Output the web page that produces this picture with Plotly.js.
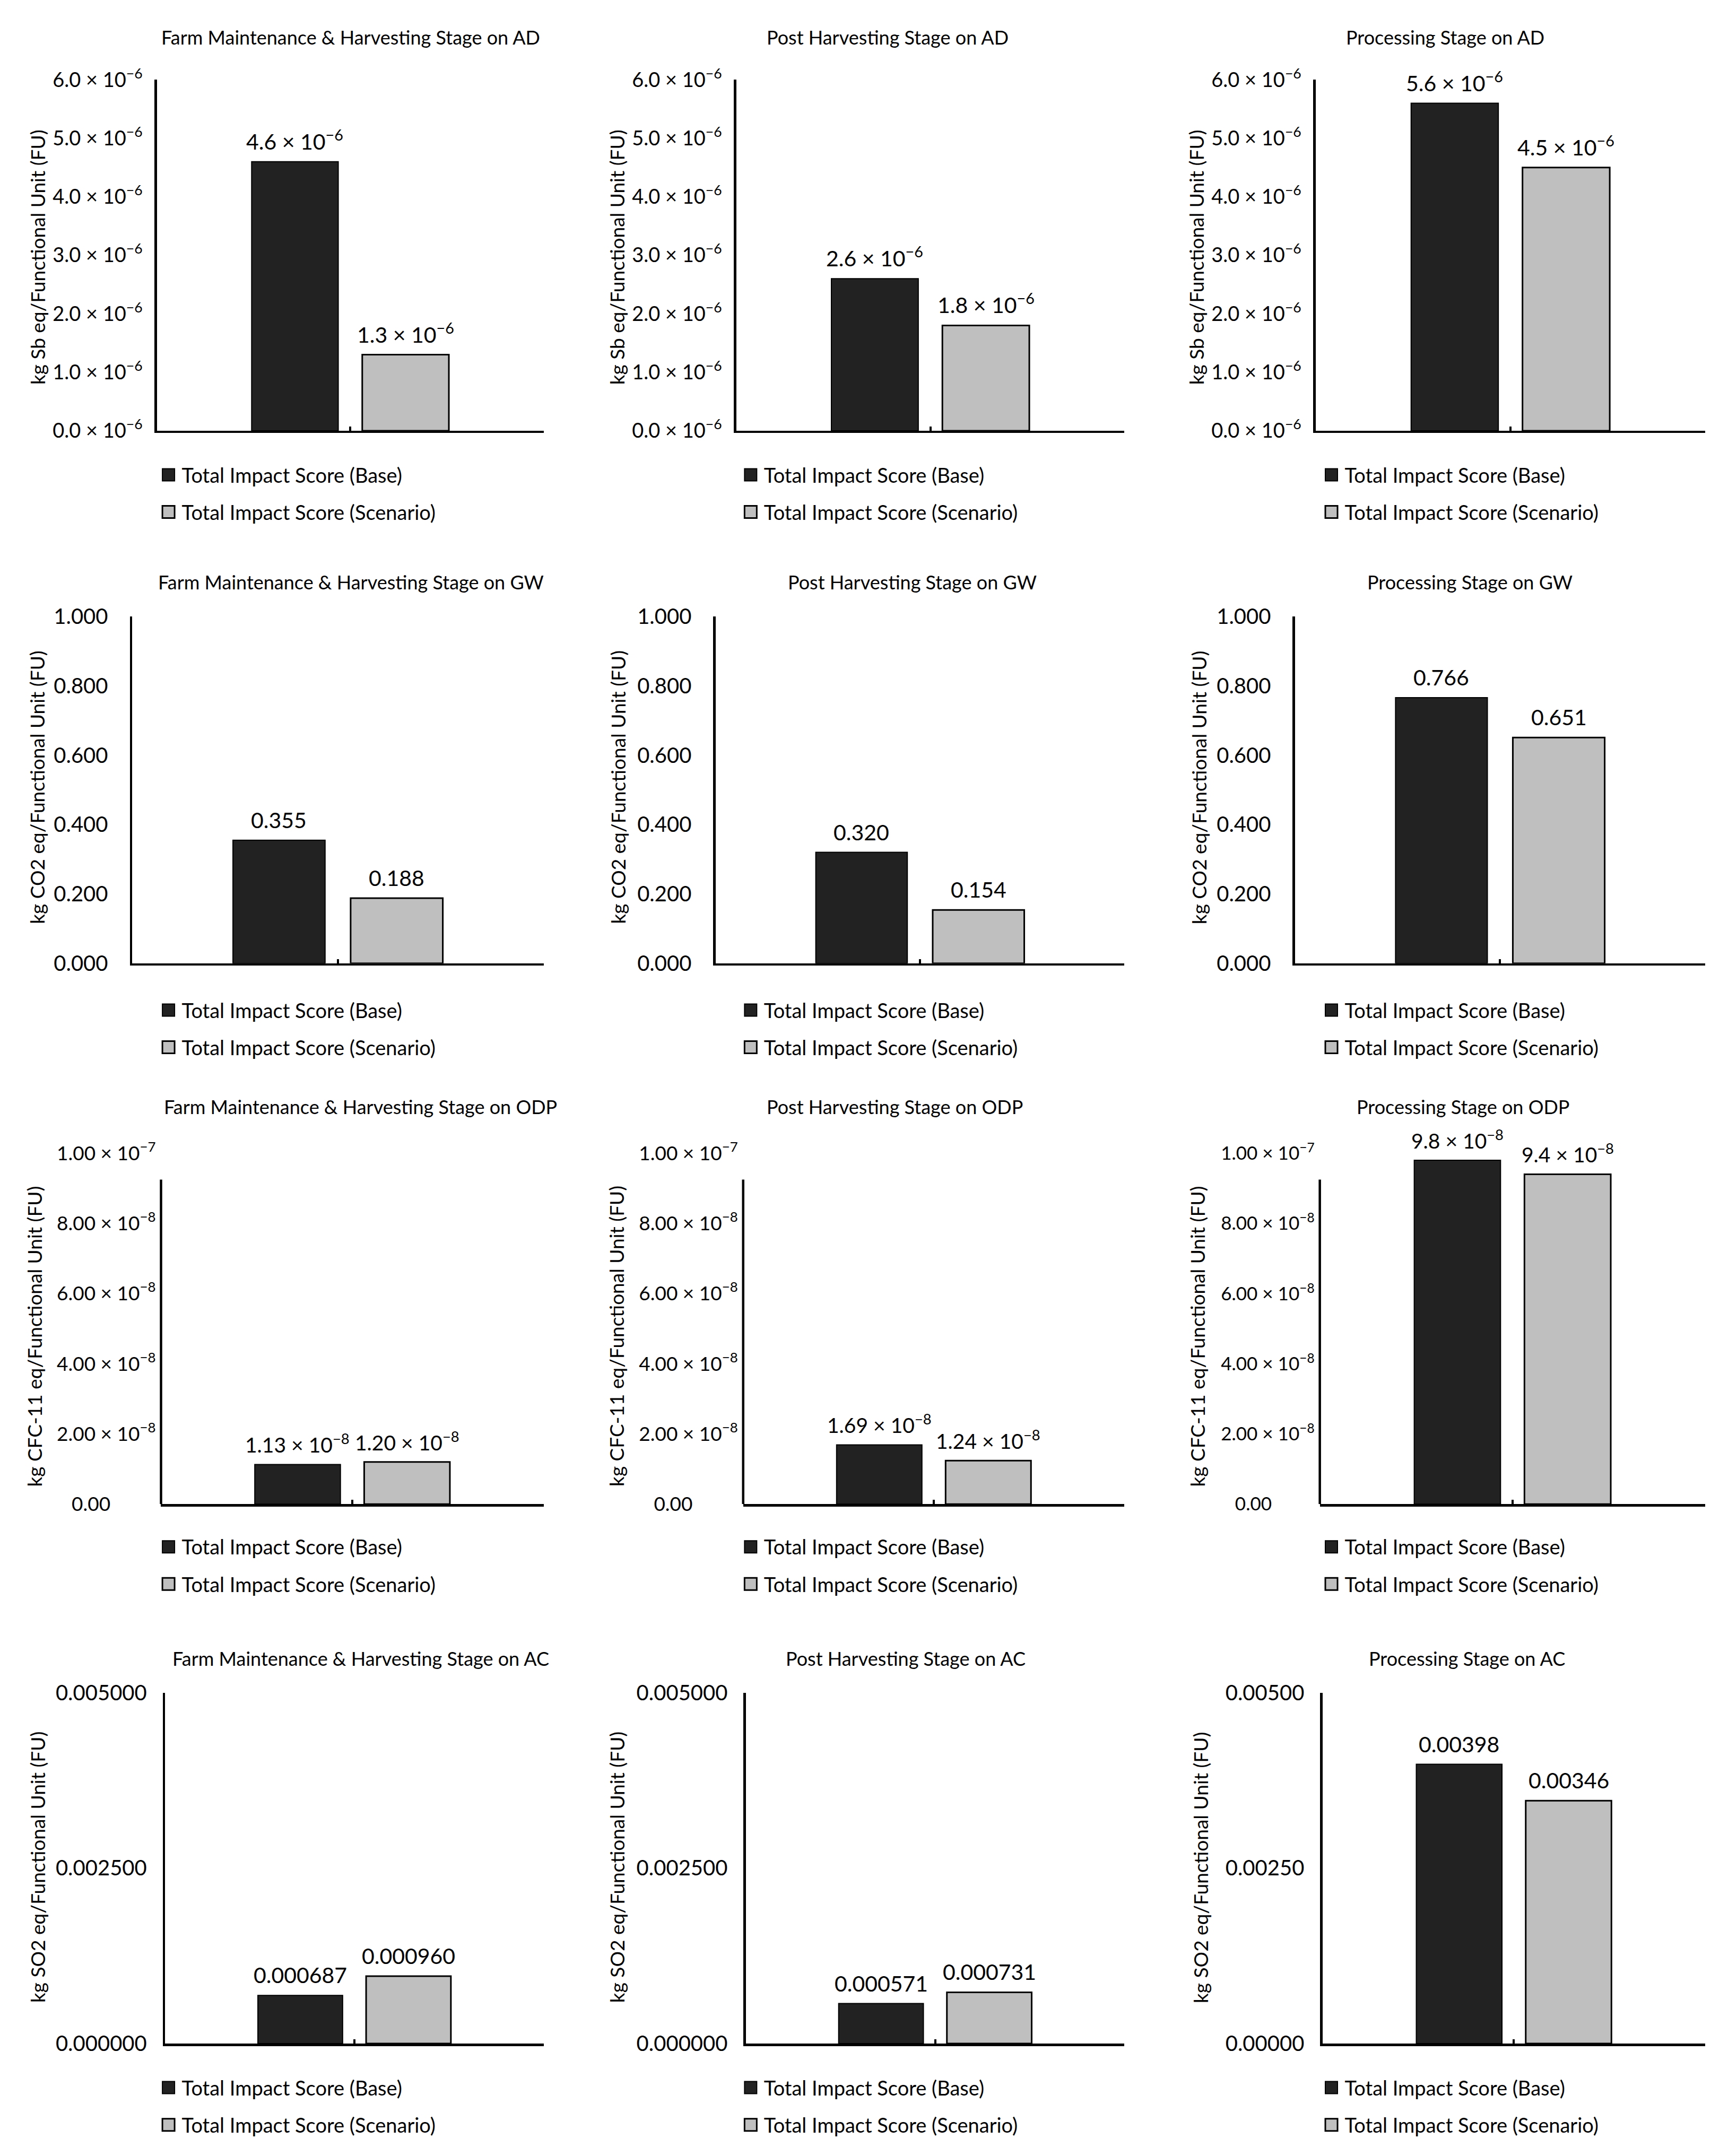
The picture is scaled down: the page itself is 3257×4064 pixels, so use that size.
<!DOCTYPE html>
<html><head><meta charset="utf-8">
<script src="https://cdn.plot.ly/plotly-3.0.1.min.js"></script>
<style>html,body{margin:0;padding:0;background:#fff}</style>
</head><body><div id="chart" style="width:3257px;height:4064px"></div>
<script>
// ---------- data ----------
const stages = ['Farm Maintenance & Harvesting Stage', 'Post Harvesting Stage', 'Processing Stage'];
const categories = ['AD', 'GW', 'ODP', 'AC'];
const seriesNames = ['Total Impact Score (Base)', 'Total Impact Score (Scenario)'];
const yTitles = ['kg Sb eq/Functional Unit (FU)', 'kg CO2 eq/Functional Unit (FU)',
                 'kg CFC-11 eq/Functional Unit (FU)', 'kg SO2 eq/Functional Unit (FU)'];

const adBase = [4.6e-6, 2.6e-6, 5.6e-6];
const adScenario = [1.3e-6, 1.8e-6, 4.5e-6];
const gwBase = [0.355, 0.320, 0.766];
const gwScenario = [0.188, 0.154, 0.651];
const odpBase = [1.13e-8, 1.69e-8, 9.8e-8];
const odpScenario = [1.20e-8, 1.24e-8, 9.4e-8];
const acBase = [0.000687, 0.000571, 0.00398];
const acScenario = [0.000960, 0.000731, 0.00346];

// labels as printed: [mantissa, exponent] for the scientific ones
const adBaseLabels = [['4.6', '−6'], ['2.6', '−6'], ['5.6', '−6']];
const adScenarioLabels = [['1.3', '−6'], ['1.8', '−6'], ['4.5', '−6']];
const gwBaseLabels = ['0.355', '0.320', '0.766'];
const gwScenarioLabels = ['0.188', '0.154', '0.651'];
const odpBaseLabels = [['1.13', '−8'], ['1.69', '−8'], ['9.8', '−8']];
const odpScenarioLabels = [['1.20', '−8'], ['1.24', '−8'], ['9.4', '−8']];
const acBaseLabels = ['0.000687', '0.000571', '0.00398'];
const acScenarioLabels = ['0.000960', '0.000731', '0.00346'];

const adTickVals = [0, 1e-6, 2e-6, 3e-6, 4e-6, 5e-6, 6e-6];
const adTickText = [['0.0', '−6'], ['1.0', '−6'], ['2.0', '−6'], ['3.0', '−6'], ['4.0', '−6'], ['5.0', '−6'], ['6.0', '−6']];
const gwTickVals = [0, 0.2, 0.4, 0.6, 0.8, 1.0];
const gwTickText = ['0.000', '0.200', '0.400', '0.600', '0.800', '1.000'];
const odpTickVals = [0, 2e-8, 4e-8, 6e-8, 8e-8, 1e-7];
const odpTickText = ['0.00', ['2.00', '−8'], ['4.00', '−8'], ['6.00', '−8'], ['8.00', '−8'], ['1.00', '−7']];
const acTickVals = [0, 0.0025, 0.005];
const acTickTextA = ['0.000000', '0.002500', '0.005000'];
const acTickTextB = ['0.00000', '0.00250', '0.00500'];

// ---------- assembly ----------
const sci = l => Array.isArray(l)
  ? l[0] + ' × 10<span style="font-size:70%;baseline-shift:super">' + l[1] + '</span>' : l;

const baseVals = [adBase, gwBase, odpBase, acBase];
const scenVals = [adScenario, gwScenario, odpScenario, acScenario];
const baseLbls = [adBaseLabels, gwBaseLabels, odpBaseLabels, acBaseLabels];
const scenLbls = [adScenarioLabels, gwScenarioLabels, odpScenarioLabels, acScenarioLabels];
const tickVals = [adTickVals, gwTickVals, odpTickVals, acTickVals];
const tickTexts = [[adTickText, adTickText, adTickText], [gwTickText, gwTickText, gwTickText],
                   [odpTickText, odpTickText, odpTickText], [acTickTextA, acTickTextA, acTickTextB]];
const yMax = [6e-6, 1.0, 1e-7, 0.005];

const W = 3257, H = 4064, K = 2.594;   // layout measured in reference-overview units
const FONT = 'Lato, "Open Sans", sans-serif';
const colRight = [395, 817, 1239];
const axisLeft = [[114, 535, 956], [96, 520, 941], [117, 540, 959], [120, 542, 961]];
const rowTB = [[58, 313], [448, 700], [838, 1093], [1230, 1485]];
const tickStandoff = [15, 33, 9, 22];
const tickFont = [[38, 38, 38], [40, 40, 40], [37, 37, 35], [40, 40, 40]];
const valueFont = [41, 41, 39, 41];
const legendSquareLeft = [118, 541, 963];
const legendItemCenter = [345, 734, 1124, 1517];
const yTitleX = [[27, 448, 869], [27, 449, 871], [25, 448, 870], [27, 448, 872]];
const yTitleY = [187, 572, 971, 1357];
const titleX = [[255, 645, 1050], [255, 663, 1068], [262, 650, 1063], [262, 658, 1066]];
const titleY = [27, 423, 804, 1205];

const barW = 0.448, baseOff = -0.51, scenOff = 0.062;
const LEG_FONT = 38, LEG_ITEMW = 40, SWATCH = 11.5;

const traces = [], annotations = [], shapes = [];
const layout = {
  width: W, height: H, margin: {l: 0, r: 0, t: 0, b: 0},
  paper_bgcolor: '#fff', plot_bgcolor: '#fff',
  barmode: 'overlay', showlegend: true,
  font: {family: FONT, color: '#000'},
};

for (let r = 0; r < 4; r++) {
  for (let c = 0; c < 3; c++) {
    const n = r * 3 + c + 1;
    const sfx = n === 1 ? '' : String(n);
    const xa = 'x' + sfx, ya = 'y' + sfx, lg = 'legend' + sfx;
    traces.push({
      type: 'bar', x: [0], y: [baseVals[r][c]], xaxis: xa, yaxis: ya,
      name: seriesNames[0], legend: lg, legendgroup: 'base' + n,
      width: barW, offset: baseOff,
      marker: {color: '#222222', line: {color: '#000', width: 2}}, hoverinfo: 'skip'
    });
    traces.push({
      type: 'bar', x: [0], y: [scenVals[r][c]], xaxis: xa, yaxis: ya,
      name: seriesNames[1], legend: lg, legendgroup: 'scen' + n,
      width: barW, offset: scenOff,
      marker: {color: '#bfbfbf', line: {color: '#000', width: 3}}, hoverinfo: 'skip'
    });
    const x0 = axisLeft[r][c] * K / W, x1 = colRight[c] * K / W;
    const yTop = 1 - rowTB[r][0] * K / H, yBot = 1 - rowTB[r][1] * K / H;
    layout['xaxis' + sfx] = {
      domain: [x0, x1], anchor: ya, range: [-1, 1], type: 'linear',
      tickvals: [0, 1], ticks: 'inside', ticklen: 8, tickwidth: 4, tickcolor: '#000',
      showticklabels: false, showline: true, linecolor: '#000', linewidth: 4.5,
      showgrid: false, zeroline: false, fixedrange: true
    };
    const tt = tickTexts[r][c].map(t => (r === 2 && t === '0.00') ? t + '\u00a0'.repeat(9) : sci(t));
    layout['yaxis' + sfx] = {
      domain: [yBot, yTop], anchor: xa, range: [0, yMax[r]],
      tickmode: 'array', tickvals: tickVals[r], ticktext: tt,
      ticks: '', ticklabelstandoff: tickStandoff[r],
      tickfont: {family: FONT, size: tickFont[r][c], color: '#000'},
      showline: r !== 2, linecolor: '#000', linewidth: 4.5,
      showgrid: false, zeroline: false, fixedrange: true
    };
    if (r === 2) {
      shapes.push({type: 'line', xref: xa + ' domain', yref: ya, x0: 0, x1: 0, y0: 0, y1: 0.925e-7,
                   line: {color: '#000', width: 4.5}});
    }
    const itemH = LEG_FONT * 1.3 + 3;
    layout[lg] = {
      x: (legendSquareLeft[c] * K - (LEG_ITEMW / 2 + 5 - SWATCH)) / W, xanchor: 'left',
      y: 1 - (legendItemCenter[r] * K - 5 - itemH / 2) / H, yanchor: 'top',
      orientation: 'v', traceorder: 'grouped', tracegroupgap: 27 * K - itemH,
      itemwidth: LEG_ITEMW,
      font: {family: FONT, size: LEG_FONT, color: '#000'}, bgcolor: 'rgba(0,0,0,0)', borderwidth: 0
    };
    // value labels
    annotations.push({
      xref: xa, yref: ya, x: baseOff + barW / 2, y: baseVals[r][c], text: sci(baseLbls[r][c]),
      showarrow: false, yanchor: 'bottom', yshift: 12, font: {family: FONT, size: valueFont[r], color: '#000'}
    });
    annotations.push({
      xref: xa, yref: ya, x: scenOff + barW / 2, y: scenVals[r][c], text: sci(scenLbls[r][c]),
      showarrow: false, yanchor: 'bottom', yshift: 12, font: {family: FONT, size: valueFont[r], color: '#000'}
    });
    // chart title
    annotations.push({
      xref: 'paper', yref: 'paper', x: titleX[r][c] * K / W, y: 1 - titleY[r] * K / H,
      text: stages[c] + ' on ' + categories[r], showarrow: false, xanchor: 'center', yanchor: 'middle',
      font: {family: FONT, size: 36, color: '#000'}
    });
    // y axis title
    annotations.push({
      xref: 'paper', yref: 'paper', x: yTitleX[r][c] * K / W, y: 1 - yTitleY[r] * K / H,
      text: yTitles[r], showarrow: false, textangle: -90, xanchor: 'center', yanchor: 'middle',
      font: {family: FONT, size: 37, color: '#000'}
    });
  }
}
layout.annotations = annotations;
layout.shapes = shapes;

Plotly.newPlot('chart', traces, layout, {staticPlot: true}).then(gd => {
  // enlarge the legend swatches to the reference size (about 23 px squares)
  const s = SWATCH;
  gd.querySelectorAll('.legendpoints path').forEach(p =>
    p.setAttribute('d', `M${s},${s}H${-s}V${-s}H${s}Z`));
});
</script></body></html>
